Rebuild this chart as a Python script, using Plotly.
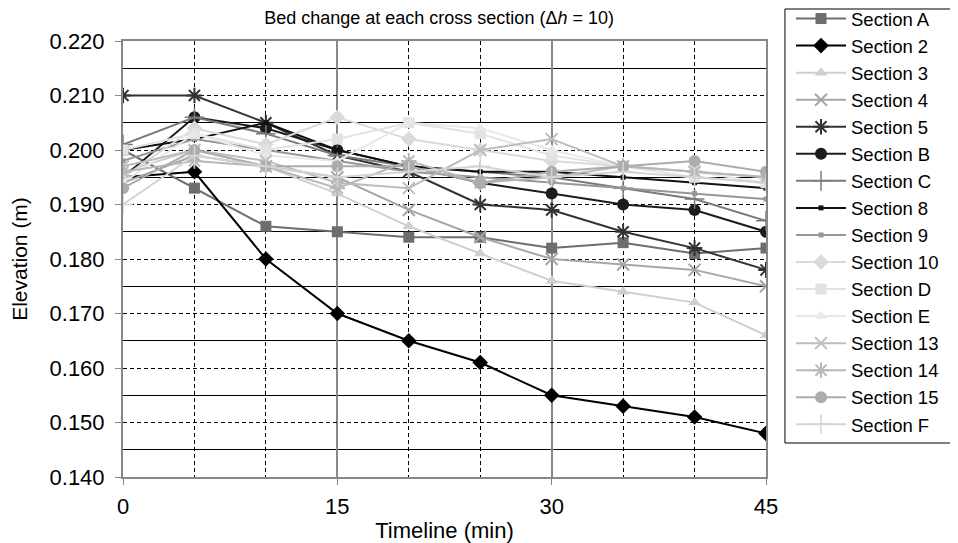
import plotly.graph_objects as go

timeline = [0, 5, 10, 15, 20, 25, 30, 35, 40, 45]

sections = ["Section A", "Section 2", "Section 3", "Section 4", "Section 5", "Section B",
            "Section C", "Section 8", "Section 9", "Section 10", "Section D", "Section E",
            "Section 13", "Section 14", "Section 15", "Section F"]

sec_A  = [0.200, 0.193, 0.186, 0.185, 0.184, 0.184, 0.182, 0.183, 0.181, 0.182]
sec_2  = [0.195, 0.196, 0.180, 0.170, 0.165, 0.161, 0.155, 0.153, 0.151, 0.148]
sec_3  = [0.196, 0.200, 0.197, 0.192, 0.186, 0.181, 0.176, 0.174, 0.172, 0.166]
sec_4  = [0.194, 0.199, 0.197, 0.195, 0.189, 0.184, 0.180, 0.179, 0.178, 0.175]
sec_5  = [0.210, 0.210, 0.205, 0.199, 0.196, 0.190, 0.189, 0.185, 0.182, 0.178]
sec_B  = [0.195, 0.206, 0.204, 0.200, 0.197, 0.194, 0.192, 0.190, 0.189, 0.185]
sec_C  = [0.201, 0.206, 0.203, 0.199, 0.197, 0.196, 0.195, 0.193, 0.191, 0.187]
sec_8  = [0.200, 0.202, 0.205, 0.200, 0.197, 0.196, 0.196, 0.195, 0.194, 0.193]
sec_9  = [0.198, 0.202, 0.200, 0.198, 0.196, 0.195, 0.194, 0.193, 0.192, 0.191]
sec_10 = [0.195, 0.204, 0.201, 0.206, 0.202, 0.200, 0.198, 0.197, 0.196, 0.195]
sec_D  = [0.200, 0.203, 0.200, 0.202, 0.205, 0.203, 0.199, 0.197, 0.195, 0.194]
sec_E  = [0.194, 0.203, 0.199, 0.198, 0.205, 0.204, 0.200, 0.197, 0.196, 0.194]
sec_13 = [0.197, 0.200, 0.198, 0.194, 0.193, 0.200, 0.202, 0.197, 0.196, 0.195]
sec_14 = [0.196, 0.198, 0.197, 0.193, 0.198, 0.194, 0.195, 0.197, 0.196, 0.195]
sec_15 = [0.193, 0.200, 0.197, 0.197, 0.197, 0.194, 0.196, 0.197, 0.198, 0.196]
sec_F  = [0.190, 0.199, 0.197, 0.195, 0.196, 0.197, 0.195, 0.196, 0.195, 0.194]

values = [sec_A, sec_2, sec_3, sec_4, sec_5, sec_B, sec_C, sec_8, sec_9, sec_10,
          sec_D, sec_E, sec_13, sec_14, sec_15, sec_F]

styles = [
    ("#6e6e6e", "square", 11, 0),
    ("#000000", "diamond", 12, 0),
    ("#cfcfcf", "triangle-up", 11, 0),
    ("#a6a6a6", "x-thin-open", 12, 2),
    ("#333333", "asterisk-open", 13, 2),
    ("#1c1c1c", "circle", 12, 0),
    ("#7a7a7a", "cross-thin-open", 14, 1.5),
    ("#111111", "square", 5, 0),
    ("#969696", "square", 5, 0),
    ("#dadada", "diamond", 12, 0),
    ("#e2e2e2", "square", 11, 0),
    ("#e8e8e8", "triangle-up", 11, 0),
    ("#bdbdbd", "x-thin-open", 12, 2),
    ("#b8b8b8", "asterisk-open", 13, 2),
    ("#acacac", "circle", 12, 0),
    ("#d4d4d4", "cross-thin-open", 14, 1.5),
]

fig = go.Figure()
for name, vals, (col, sym, size, lw) in zip(sections, values, styles):
    marker = dict(symbol=sym, size=size, color=col)
    if lw:
        marker["line"] = dict(color=col, width=lw)
    fig.add_trace(go.Scatter(
        x=timeline, y=vals, name=name, mode="lines+markers",
        line=dict(color=col, width=2), marker=marker,
    ))

# legend frame
fig.add_shape(type="rect", xref="paper", yref="paper",
              x0=1.0295, x1=1.2893, y0=0.078, y1=1.0734,
              line=dict(color="#000000", width=1), fillcolor="rgba(0,0,0,0)", layer="above")

font_family = "Liberation Sans, Arial, sans-serif"
fig.update_layout(
    width=958, height=543,
    margin=dict(l=115, r=200, t=33, b=74, autoexpand=False),
    paper_bgcolor="white", plot_bgcolor="white",
    font=dict(family=font_family, color="#000000"),
    title=dict(text="Bed change at each cross section (Δ<i>h</i> = 10)",
               x=0.45, xanchor="center", y=0.983, yanchor="middle",
               font=dict(size=18, family=font_family)),
    showlegend=True,
    legend=dict(x=1.0389, xanchor="left", y=1.094, yanchor="top",
                borderwidth=0, bgcolor="rgba(0,0,0,0)",
                font=dict(size=18.5, family=font_family),
                itemwidth=50, maxheight=520, traceorder="normal"),
    xaxis=dict(
        range=[0, 45], tickvals=[0, 15, 30, 45], tickformat="d",
        showline=True, linecolor="#888888", linewidth=2, mirror=True,
        ticks="outside", ticklen=6, tickcolor="#888888", tickwidth=1,
        ticklabelstandoff=3,
        showgrid=True, gridcolor="#888888", gridwidth=1.5,
        minor=dict(dtick=5, showgrid=True, gridcolor="#000000", griddash="4px,3px", gridwidth=1),
        tickfont=dict(size=22), zeroline=False,
        title=dict(text="Timeline (min)", font=dict(size=22), standoff=4),
    ),
    yaxis=dict(
        range=[0.14, 0.22], dtick=0.01, tickformat=".3f",
        showline=True, linecolor="#888888", linewidth=2, mirror=True,
        ticks="outside", ticklen=6, tickcolor="#888888", tickwidth=1,
        ticklabelstandoff=6,
        showgrid=True, gridcolor="#000000", griddash="4px,3px", gridwidth=1,
        minor=dict(dtick=0.005, tick0=0.145, showgrid=True, gridcolor="#000000",
                   griddash="solid", gridwidth=1),
        tickfont=dict(size=22), zeroline=False,
        title=dict(text="Elevation (m)", font=dict(size=21), standoff=18),
    ),
)

fig.write_html("out.html")
